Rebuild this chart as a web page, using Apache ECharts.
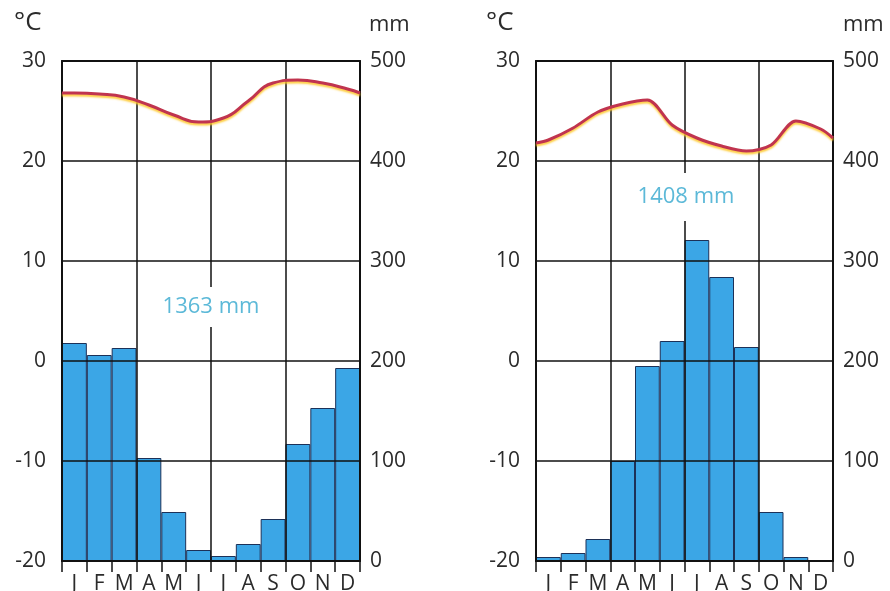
<!DOCTYPE html>
<html><head><meta charset="utf-8">
<script src="https://cdn.jsdelivr.net/npm/echarts@6/dist/echarts.min.js"></script>
<style>html,body{margin:0;padding:0;background:#fff}#c{width:890px;height:591px}</style>
</head><body><div id="c"></div>
<script>
// ---- data ----
const months = ['J','F','M','A','M','J','J','A','S','O','N','D'];
// left station
const precipLeft = [218,206,213,103,49,11,5,17,42,117,153,193];
const tempLeft = [26.8,26.7,26.4,25.6,24.6,23.9,24.3,26.0,27.8,28.1,27.8,27.2];
const tempLeftEdges = [26.8, 26.8];   // curve read at the left and right frame
const totalLeft = '1363 mm';
// right station
const precipRight = [4,8,22,100,195,220,321,284,214,49,4,0];
const tempRight = [22.1,23.3,24.9,25.7,26.1,23.6,22.3,21.5,21.0,21.6,24.0,23.2];
const tempRightEdges = [21.8, 22.3];
const totalRight = '1408 mm';
// axes
const tempMin = -20, tempMax = 30, tempStep = 10;
const precMin = 0, precMax = 500, precStep = 100;

const FONT = 'Open Sans';
const TXT = '#2b2b2b';
const BAR = '#3ba6e6';

function lineData(t, edges) {
  return [[0, edges[0]]].concat(t.map((v, i) => [i + 0.5, v])).concat([[12, edges[1]]]);
}

const grids = [
  {left: 62, top: 61, width: 298, height: 500, outerBoundsMode: 'none', containLabel: false},
  {left: 536, top: 61, width: 297, height: 500, outerBoundsMode: 'none', containLabel: false}
];

const AL = {show: true, onZero: false, lineStyle: {color: '#111', width: 2}};
const xAxis = [], yAxis = [], series = [];
[[precipLeft, tempLeft, tempLeftEdges, 0.5], [precipRight, tempRight, tempRightEdges, 0.3]].forEach((d, g) => {
  xAxis.push({
    type: 'category', gridIndex: g, data: months, position: 'bottom', z: 5,
    axisLine: AL,
    axisTick: {show: true, interval: 0, length: 11, lineStyle: {color: '#111', width: 1.5}},
    axisLabel: {interval: 0, margin: 13, fontSize: 21, color: TXT, fontFamily: FONT},
    splitLine: {show: false}
  });
  xAxis.push({
    type: 'value', gridIndex: g, min: 0, max: 12, interval: 3, position: 'top', z: 5,
    axisLine: AL,
    axisTick: {show: false}, axisLabel: {show: false},
    splitLine: {show: true, lineStyle: {color: '#111', width: 1.5}}
  });
  yAxis.push({
    type: 'value', gridIndex: g, min: tempMin, max: tempMax, interval: tempStep, position: 'left', z: 5,
    axisLine: AL,
    axisTick: {show: false},
    axisLabel: {margin: 16, fontSize: 21, color: TXT, fontFamily: FONT},
    splitLine: {show: true, lineStyle: {color: '#111', width: 1.5}}
  });
  yAxis.push({
    type: 'value', gridIndex: g, min: precMin, max: precMax, interval: precStep, position: 'right', z: 5,
    axisLine: AL,
    axisTick: {show: false},
    axisLabel: {margin: 10, fontSize: 21, color: TXT, fontFamily: FONT},
    splitLine: {show: false}
  });
  series.push({
    type: 'bar', xAxisIndex: g * 2, yAxisIndex: g * 2 + 1, data: d[0],
    barCategoryGap: '0%', z: 2,
    itemStyle: {color: BAR, borderColor: '#1c3158', borderWidth: 1}
  });
  series.push({
    type: 'line', xAxisIndex: g * 2 + 1, yAxisIndex: g * 2, data: lineData(d[1], d[2]),
    smooth: d[3], showSymbol: false, z: 10,
    lineStyle: {color: '#c0344f', width: 3, shadowColor: 'rgba(255,200,40,0.9)', shadowBlur: 2, shadowOffsetY: 2}
  });
});

const chart = echarts.init(document.getElementById('c'), null, {renderer: 'canvas'});
chart.setOption({
  animation: false,
  backgroundColor: '#fff',
  grid: grids,
  xAxis: xAxis,
  yAxis: yAxis,
  series: series,
  graphic: [
    {type: 'text', left: 14, top: 10, z: 100, style: {text: '°C', fontSize: 26, fill: TXT, fontFamily: FONT}},
    {type: 'text', left: 369, top: 14, z: 100, style: {text: 'mm', fontSize: 22, fill: TXT, fontFamily: FONT}},
    {type: 'text', left: 486, top: 10, z: 100, style: {text: '°C', fontSize: 26, fill: TXT, fontFamily: FONT}},
    {type: 'text', left: 843, top: 14, z: 100, style: {text: 'mm', fontSize: 22, fill: TXT, fontFamily: FONT}},
    {type: 'text', x: 211, y: 307, z: 100, style: {text: totalLeft, fontSize: 22, fill: '#5cb9d8', fontFamily: FONT,
      align: 'center', verticalAlign: 'middle', backgroundColor: '#fff', padding: [9, 3]}},
    {type: 'text', x: 686, y: 197, z: 100, style: {text: totalRight, fontSize: 22, fill: '#5cb9d8', fontFamily: FONT,
      align: 'center', verticalAlign: 'middle', backgroundColor: '#fff', padding: [22, 3, 4, 3]}}
  ]
});
</script></body></html>
